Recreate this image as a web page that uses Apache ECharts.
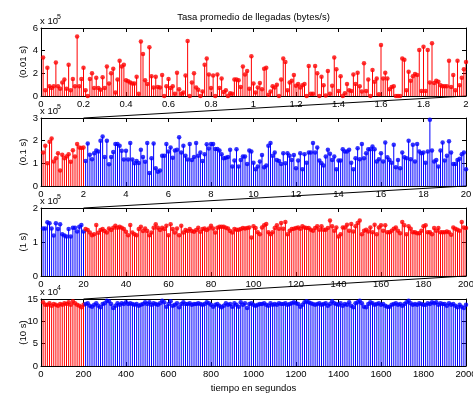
<!DOCTYPE html>
<html>
<head>
<meta charset="utf-8">
<script src="https://cdn.jsdelivr.net/npm/echarts@6/dist/echarts.min.js"></script>
<style>
  html, body { margin: 0; padding: 0; background: #fff; }
  #chart { width: 473px; height: 394px; }
</style>
</head>
<body>
<div id="chart"></div>
<script>
// valores (unidades de cada eje: x10^5 o x10^4)
const rate001 = [
  3.4, 0.5, 2.5, 0.85, 0.7, 0.85, 2.95, 0.85, 0.65, 1.2,
  1.45, 0.65, 2.75, 0.5, 1.5, 0.85, 5.25, 0.85, 1.5, 2.5,
  0.5, 0, 1.5, 2.0, 0.7, 1.6, 0.7, 0.55, 1.65, 0.7,
  2.6, 1.1, 2.0, 2.4, 0.3, 1.45, 3.1, 2.6, 2.75, 1.4,
  1.3, 1.2, 1.1, 1.1, 1.7, 0.2, 4.8, 3.7, 1.4, 1.05,
  4.3, 1.75, 0.75, 1.7, 0.8, 0.75, 1.85, 0, 0.85, 1.5,
  0.7, 0.85, 0.2, 2.05, 0.6, 0.2, 0.3, 1.8, 4.85, 0,
  1.2, 2.0, 0.75, 0.55, 0, 0.4, 2.75, 3.3, 1.9, 0.7,
  1.8, 0, 1.9, 0.7, 1.55, 0.35, 0.5, 0, 0.25, 0.2,
  1.45, 1.45, 1.4, 0.8, 2.6, 1.9, 2.2, 0.65, 3.5, 1.1,
  0.3, 0.75, 1.15, 0.6, 2.4, 2.5, 0.1, 0.4, 0.85, 0.75,
  1.0, 0, 1.45, 3.3, 3.0, 0.5, 1.2, 1.35, 1.85, 0.9,
  1.05, 0.75, 0.95, 1.05, 0, 2.65, 0.2, 0.2, 2.65, 2.0,
  0, 1.7, 0.95, 0.05, 2.2, 0.2, 0.9, 3.4, 2.35, 0.45,
  1.75, 0, 0.25, 1.05, 0.5, 0.45, 1.9, 1.05, 2.05, 0.85,
  0.4, 2.9, 0.45, 1.45, 0, 2.3, 1.25, 1.55, 0.15, 4.5,
  1.55, 2.05, 1.55, 0.6, 0.8, 0.85, 0, 0, 0, 3.3,
  3.2, 0.5, 2.15, 1.35, 1.75, 1.95, 1.85, 4.05, 0.45, 4.35,
  0.45, 4.05, 1.2, 4.65, 1.15, 1.35, 1.25, 0.95, 0.85, 0.85,
  0.85, 3.1, 0.8, 1.85, 0.5, 3.1, 0.95, 1.6, 2.35, 3.0
];
const rate01 = [
  1.48, 1.78, 1.0, 1.95, 2.1, 1.08, 1.22, 1.45, 0.68, 1.38,
  1.22, 1.3, 1.4, 1.07, 1.58, 1.3, 1.85, 1.7, 1.68, 1.7,
  1.1, 1.88, 1.38, 1.18, 1.45, 1.57, 1.52, 2.0, 2.18, 1.28,
  2.0, 0.96, 1.28, 1.5, 1.85, 1.85, 1.78, 1.55, 1.17, 1.55,
  1.17, 1.9, 1.17, 1.0, 1.1, 1.02, 1.6, 1.28, 1.07, 1.9,
  0.57, 1.22, 1.88, 0.78, 0.63, 0.68, 1.33, 1.33, 1.85, 1.52,
  1.7, 1.25, 1.57, 1.6, 2.15, 1.48, 1.78, 1.33, 1.17, 1.85,
  1.15, 1.28, 1.9, 1.33, 1.48, 1.1, 1.4, 1.84, 1.65, 1.85,
  1.85, 1.63, 1.63, 1.57, 1.4, 1.22, 1.25, 1.28, 1.6, 0.86,
  1.12, 1.62, 0.86, 1.15, 1.3, 1.3, 0.97, 1.57, 1.52, 1.03,
  0.74, 0.86, 1.08, 1.37, 0.83, 0.9, 1.78, 1.9, 1.33, 1.48,
  1.15, 1.1, 0.97, 1.45, 1.0, 1.45, 1.33, 1.15, 1.37, 0.78,
  1.12, 1.45, 0.74, 1.4, 1.03, 1.48, 1.48, 1.9, 1.48, 1.7,
  1.12, 1.0, 0.9, 1.3, 1.6, 1.42, 1.15, 1.3, 0.74, 1.12,
  1.12, 1.62, 1.52, 1.52, 1.6, 1.03, 0.74, 1.22, 1.67, 1.18,
  1.85, 1.22, 1.45, 1.62, 1.62, 1.74, 1.62, 1.08, 1.18, 1.45,
  1.08, 1.92, 1.27, 1.15, 1.03, 1.82, 0.83, 1.15, 0.78, 1.48,
  1.27, 1.22, 2.0, 1.18, 1.82, 1.08, 1.85, 1.52, 1.45, 1.48,
  1.03, 1.52, 2.92, 1.57, 1.08, 1.15, 0.86, 1.57, 1.92, 1.12,
  1.33, 1.97, 1.48, 0.97, 0.97, 1.15, 1.2, 1.4, 1.48, 0.74
];
const rate1 = [
  1.4, 1.4, 1.58, 1.55, 1.4, 1.19, 1.55, 1.38, 1.52, 1.23,
  1.19, 1.16, 1.38, 1.16, 1.42, 1.42, 1.31, 1.45, 1.5, 1.31,
  1.38, 1.35, 1.28, 1.2, 1.23, 1.5, 1.27, 1.35, 1.38, 1.32,
  1.28, 1.4, 1.35, 1.42, 1.48, 1.42, 1.45, 1.42, 1.38, 1.3,
  1.2, 1.5, 1.28, 1.23, 1.2, 1.38, 1.45, 1.32, 1.4, 1.32,
  1.2, 1.28, 1.42, 1.52, 1.42, 1.35, 1.42, 1.38, 1.48, 1.2,
  1.52, 1.38, 1.28, 1.4, 1.2, 1.48, 1.28, 1.35, 1.32, 1.38,
  1.32, 1.3, 1.35, 1.42, 1.3, 1.38, 1.4, 1.35, 1.4, 1.48,
  1.4, 1.28, 1.42, 1.45, 1.45, 1.45, 1.42, 1.4, 1.32, 1.28,
  1.38, 1.36, 1.36, 1.38, 1.41, 1.4, 1.41, 1.43, 1.13, 1.46,
  1.41, 1.29, 1.23, 1.43, 1.49, 1.53, 1.29, 1.23, 1.29, 1.41,
  1.49, 1.39, 1.56, 1.39, 1.59, 1.23, 1.33, 1.38, 1.39, 1.41,
  1.43, 1.39, 1.46, 1.43, 1.41, 1.41, 1.36, 1.33, 1.41, 1.46,
  1.36, 1.46, 1.36, 1.36, 1.41, 1.63, 1.46, 1.33, 1.43, 1.16,
  1.23, 1.43, 1.43, 1.51, 1.33, 1.53, 1.31, 1.46, 1.56, 1.63,
  1.23, 1.33, 1.36, 1.31, 1.43, 1.29, 1.51, 1.23, 1.43, 1.49,
  1.33, 1.49, 1.29, 1.29, 1.33, 1.39, 1.43, 1.33, 1.26, 1.59,
  1.49, 1.23, 1.46, 1.39, 1.29, 1.29, 1.26, 1.26, 1.33, 1.46,
  1.49, 1.29, 1.29, 1.23, 1.41, 1.33, 1.41, 1.29, 1.29, 1.29,
  1.31, 1.29, 1.21, 1.43, 1.39, 1.36, 1.33, 1.59, 1.43, 1.41
];
const rate10 = [
  14.25, 13.73, 13.73, 14.03, 13.51, 13.88, 13.73, 13.51, 13.88, 13.73,
  14.03, 13.88, 14.25, 13.73, 14.48, 14.03, 13.73, 13.51, 13.14, 13.73,
  13.88, 14.03, 13.51, 13.29, 13.73, 14.03, 13.51, 13.14, 13.88, 14.03,
  14.62, 14.48, 13.88, 12.99, 13.51, 14.03, 13.73, 14.03, 13.88, 14.25,
  13.88, 14.03, 13.88, 13.73, 13.88, 13.51, 13.73, 13.88, 14.25, 13.88,
  14.25, 13.73, 14.03, 13.88, 13.73, 14.03, 14.62, 14.25, 13.29, 13.88,
  14.48, 13.51, 13.73, 14.03, 13.14, 13.88, 14.25, 13.88, 13.88, 14.03,
  13.73, 13.88, 13.88, 14.03, 13.88, 13.73, 13.88, 14.25, 14.03, 13.73,
  13.29, 13.73, 13.88, 13.51, 13.14, 13.51, 14.03, 13.73, 13.88, 13.29,
  14.03, 13.73, 13.29, 14.25, 13.73, 14.03, 12.99, 13.88, 14.03, 13.73,
  13.51, 13.73, 13.88, 13.88, 14.03, 13.73, 13.51, 14.03, 13.73, 13.88,
  13.73, 14.03, 13.88, 13.88, 14.03, 13.73, 13.88, 14.03, 14.25, 14.03,
  13.88, 13.29, 13.73, 14.25, 14.48, 14.25, 14.03, 13.88, 13.73, 13.88,
  14.03, 13.73, 13.88, 14.03, 13.51, 13.88, 14.48, 14.03, 13.88, 13.73,
  14.03, 13.51, 13.88, 13.73, 14.25, 13.51, 13.14, 14.03, 14.25, 14.62,
  14.03, 13.29, 13.14, 13.88, 14.25, 14.03, 13.73, 13.88, 14.03, 13.73,
  13.88, 13.51, 13.29, 13.29, 13.73, 13.88, 14.03, 13.73, 13.88, 13.51,
  13.88, 14.25, 14.62, 14.03, 13.73, 13.88, 13.73, 14.03, 13.88, 13.73,
  13.73, 14.03, 13.88, 14.25, 14.03, 14.25, 13.73, 14.03, 13.88, 13.88,
  13.51, 14.03, 13.73, 13.88, 13.51, 13.14, 13.73, 13.29, 12.99, 13.73
];

const panelValues = [rate001, rate01, rate1, rate10];
const panelLabels = ['(0.01 s)', '(0.1 s)', '(1 s)', '(10 s)'];
const xMax = [2, 20, 200, 2000];
const yMax = [6, 3, 2, 15];
const yStep = [2, 1, 1, 5];
const yExponent = ['5', '5', '5', '4'];
const zoomCount = 20; // primeros puntos = intervalo ampliado del panel anterior

const titleText = 'Tasa promedio de llegadas (bytes/s)';
const xAxisTitle = 'tiempo en segundos';

const RED = '#ff0000';
const BLUE = '#0000ff';
const baseColor = [RED, BLUE, RED, BLUE];
const zoomColor = [RED, RED, BLUE, RED];

// layout
const FONT = '"Liberation Sans", Arial, Helvetica, sans-serif';
const FS = 9.5;
const W = 473;
const GRID_LEFT = 41;
const GRID_RIGHT = 7;
const gridTops = [28, 118, 208, 299];
const gridHeights = [68, 68, 68, 67];

const chart = echarts.init(document.getElementById('chart'), null, { renderer: 'canvas' });

const grids = [], xAxes = [], yAxes = [], series = [];
const axisLine = { show: true, onZero: false, lineStyle: { color: '#000', width: 1 } };
const axisTick = { show: true, inside: true, length: 4, lineStyle: { color: '#000' } };

// tallo vertical desde 0 hasta el valor
function renderStem(params, api) {
  const top = api.coord([api.value(0), api.value(1)]);
  const base = api.coord([api.value(0), 0]);
  return {
    type: 'line',
    shape: { x1: top[0], y1: top[1], x2: base[0], y2: base[1] },
    style: { stroke: api.visual('color'), lineWidth: 1 }
  };
}

panelValues.forEach((vals, k) => {
  grids.push({ left: GRID_LEFT, right: GRID_RIGHT, top: gridTops[k], height: gridHeights[k],
    outerBoundsMode: 'none' });
  const xBase = { gridIndex: k, type: 'value', min: 0, max: xMax[k], interval: xMax[k] / 10,
    axisLine, axisTick, splitLine: { show: false } };
  xAxes.push(Object.assign({}, xBase, {
    position: 'bottom',
    axisLabel: { color: '#000', fontSize: FS, fontFamily: FONT, margin: 3,
      formatter: v => String(+v.toFixed(2)) },
    name: k === 3 ? xAxisTitle : '',
    nameLocation: 'middle', nameGap: 17, nameMoveOverlap: false,
    nameTextStyle: { color: '#000', fontSize: FS, fontFamily: FONT }
  }));
  xAxes.push(Object.assign({}, xBase, { position: 'top', axisLabel: { show: false } }));

  const yBase = { gridIndex: k, type: 'value', min: 0, max: yMax[k], interval: yStep[k],
    axisLine, axisTick, splitLine: { show: false } };
  yAxes.push(Object.assign({}, yBase, {
    position: 'left',
    axisLabel: { color: '#000', fontSize: FS, fontFamily: FONT, margin: 3 },
    name: panelLabels[k], nameLocation: 'middle', nameGap: 13, nameRotate: 90,
    nameMoveOverlap: false,
    nameTextStyle: { color: '#000', fontSize: FS, fontFamily: FONT }
  }));
  yAxes.push(Object.assign({}, yBase, { position: 'right', axisLabel: { show: false } }));

  const step = xMax[k] / vals.length;
  const items = vals.map((v, i) => ({
    value: [(i + 1) * step, v],
    itemStyle: { color: i < zoomCount ? zoomColor[k] : baseColor[k] }
  }));
  series.push({
    type: 'custom', xAxisIndex: 2 * k, yAxisIndex: 2 * k,
    renderItem: renderStem, data: items, silent: true, clip: true
  });
  series.push({
    type: 'scatter', xAxisIndex: 2 * k, yAxisIndex: 2 * k,
    symbol: 'circle', symbolSize: 4.5, data: items, silent: true
  });
});

// textos: titulo y exponentes "x 10^n"
const texts = [{
  type: 'text', x: GRID_LEFT + (W - GRID_LEFT - GRID_RIGHT) / 2, y: 17,
  style: { text: titleText, font: FS + 'px ' + FONT, fill: '#000', align: 'center', verticalAlign: 'middle' }
}];
gridTops.forEach((t, k) => {
  texts.push({
    type: 'text', x: GRID_LEFT - 1, y: t - 7,
    style: { text: 'x 10', font: FS + 'px ' + FONT, fill: '#000', align: 'left', verticalAlign: 'middle' }
  });
  texts.push({
    type: 'text', x: GRID_LEFT + 16, y: t - 11,
    style: { text: yExponent[k], font: '7px ' + FONT, fill: '#000', align: 'left', verticalAlign: 'middle' }
  });
});

chart.setOption({
  animation: false,
  backgroundColor: '#fff',
  grid: grids,
  xAxis: xAxes,
  yAxis: yAxes,
  series: series,
  graphic: texts
});

// lineas de ampliacion: extremo derecho de un panel -> mismo instante en el panel siguiente
const connectors = [];
for (let k = 0; k < 3; k++) {
  const a = chart.convertToPixel({ xAxisIndex: 2 * k, yAxisIndex: 2 * k }, [xMax[k], 0]);
  const b = chart.convertToPixel({ xAxisIndex: 2 * (k + 1), yAxisIndex: 2 * (k + 1) }, [xMax[k], yMax[k + 1]]);
  connectors.push({
    type: 'line', z: 1,
    shape: { x1: a[0], y1: a[1], x2: b[0], y2: b[1] },
    style: { stroke: '#000', lineWidth: 1 }
  });
}
chart.setOption({ graphic: texts.concat(connectors) });
</script>
</body>
</html>
